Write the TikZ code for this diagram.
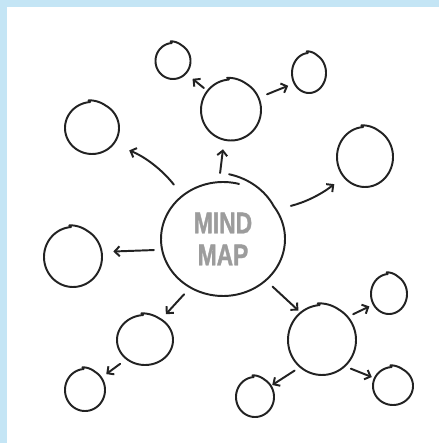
\documentclass[tikz,border=0pt]{standalone}
\usepackage{fontspec}
\usetikzlibrary{shapes.geometric,arrows.meta}
\newfontfamily\mmfont{Liberation Sans}[FakeStretch=0.76,BoldFeatures={FakeBold=1.2}]
\definecolor{ink}{HTML}{222222}
\definecolor{frame}{HTML}{C4E5F5}
\definecolor{txtgrey}{HTML}{9C9C9C}
\tikzset{
  pen/.style={line width=1.95pt, draw=ink, line cap=round, line join=round},
  bub/.style={ellipse, inner sep=0pt, draw=none},
  arr/.style={pen, -{Straight Barb[length=5pt,width=10pt]}},
  title/.style={font=\mmfont\bfseries\fontsize{30}{32}\selectfont, text=txtgrey, align=center}
}
% hand-drawn ring: the stroke starts a little outside the top, spirals onto the ellipse
\newcommand\hcirc[5]{%
  \node[bub, minimum width={2*#4pt}, minimum height={2*#5pt}] (#1) at (#2,#3) {};
  \draw[pen] plot[domain=97:-266, samples=90, smooth, variable=\t]
    ({#2+(#4+1.9*max(0,(\t-60)/37))*cos(\t)}, {#3+(#5+1.9*max(0,(\t-60)/37))*sin(\t)});
}
\begin{document}
\begin{tikzpicture}[x=1pt,y=1pt]
\useasboundingbox (0,0) rectangle (439,443);
\fill[frame] (0,0) rectangle (439,443);
\fill[white] (7,0) rectangle (439,436);
% centre
\node[bub, minimum width=124pt, minimum height=114pt, title] (C) at (223,204) {MIND\\MAP};
\draw[pen] plot[domain=85:-285, samples=120, smooth, variable=\t]
  ({223+(62+8*max(0,(\t-35)/50))*cos(\t)}, {204+(57+8*max(0,(\t-35)/50))*sin(\t)});
% bubbles
\hcirc{T}{231}{333}{30}{30.5}
\hcirc{TL}{173}{382}{17.5}{18}
\hcirc{TR}{309}{370}{17}{20}
\hcirc{UL}{92}{315}{27}{26}
\hcirc{R}{365}{286}{28}{30}
\hcirc{L}{73}{186}{29}{30}
\hcirc{LL}{145}{103}{28}{25}
\hcirc{LLs}{85}{53}{20}{21}
\hcirc{LR}{322}{103}{34}{35}
\hcirc{LRt}{389}{149}{18}{20}
\hcirc{LRbr}{393}{57}{20}{19}
\hcirc{LRbl}{255}{46}{19}{20}
% connectors
\draw[arr, shorten <=9pt, shorten >=9.5pt] (C.94) -- (T.257);
\draw[arr, shorten <=14pt, shorten >=17pt] (C.133) to[bend right=15] (UL.323);
\draw[arr, shorten <=15pt, shorten >=12pt] (C.29) to[bend right=12] (R.223);
\draw[arr, shorten <=8pt, shorten >=11.5pt] (C.190) -- (L.10);
\draw[arr, shorten <=9pt, shorten >=7pt] (C.236) -- (LL.52);
\draw[arr, shorten <=9pt, shorten >=3pt] (C.316) -- (LR.128);
\draw[arr, shorten <=4.5pt, shorten >=8.5pt] (T.141) -- (TL.316);
\draw[arr, shorten <=9pt, shorten >=6.5pt] (T.24) -- (TR.215);
\draw[arr, shorten <=8pt, shorten >=6pt] (LL.226) -- (LLs.37);
\draw[arr, shorten <=6pt, shorten >=4.5pt] (LR.42) -- (LRt.214);
\draw[arr, shorten <=6.5pt, shorten >=3pt] (LR.311) -- (LRbr.157);
\draw[arr, shorten <=6.5pt, shorten >=1.5pt] (LR.231) -- (LRbl.35);
\end{tikzpicture}
\end{document}
